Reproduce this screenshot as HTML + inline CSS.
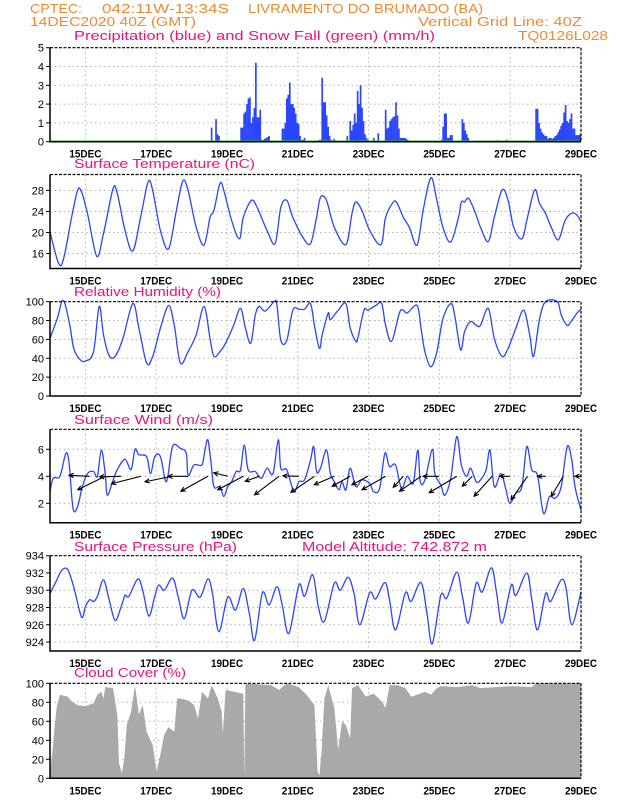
<!DOCTYPE html>
<html><head><meta charset="utf-8"><style>
html,body{margin:0;padding:0;background:#fff;}
svg{display:block;font-family:"Liberation Sans",sans-serif;}
</style></head><body>
<svg id="chart" width="618" height="800" viewBox="0 0 618 800" xmlns="http://www.w3.org/2000/svg">
<g fill="#f08a30" font-size="13">
<text x="30" y="13" textLength="52" lengthAdjust="spacingAndGlyphs">CPTEC:</text>
<text x="102" y="13" textLength="127" lengthAdjust="spacingAndGlyphs">042:11W-13:34S</text>
<text x="248" y="13" textLength="235" lengthAdjust="spacingAndGlyphs">LIVRAMENTO DO BRUMADO (BA)</text>
<text x="30" y="26" textLength="166" lengthAdjust="spacingAndGlyphs">14DEC2020 40Z (GMT)</text>
<text x="418" y="26" textLength="164" lengthAdjust="spacingAndGlyphs">Vertical Grid Line: 40Z</text>
<text x="518" y="40" textLength="90" lengthAdjust="spacingAndGlyphs">TQ0126L028</text>
</g>
<g id="panels"></g>
</svg>
<script>
// ---------- DATA ----------
const dateLabels = ["15DEC","17DEC","19DEC","21DEC","23DEC","25DEC","27DEC","29DEC"];
const dateDays = [1,3,5,7,9,11,13,15];

const precipHours = [109,112,113,114,129,130,131,132,133,134,135,136,137,138,139,140,141,142,143,144,145,146,147,148,157,158,159,160,161,162,163,164,165,166,167,168,169,170,171,172,182,183,184,185,186,187,188,189,190,192,201,203,204,205,206,207,208,209,210,211,212,213,214,215,216,219,222,227,228,229,230,231,232,233,234,235,236,237,238,239,240,241,242,265,266,267,268,269,270,271,272,279,280,281,282,283,288,303,309,329,330,331,332,333,334,335,336,337,338,339,340,341,342,343,344,345,346,347,348,349,350,351,352,353,354,355,356,357,358,359];
const precipValues = [0.75,1.2,0.4,0.3,0.75,0.75,1.5,1.6,2.0,2.3,2.35,1.0,1.3,1.8,4.2,1.3,1.3,1.7,0.1,0.1,0.15,0.2,0.25,0.3,0.7,0.7,1.0,2.3,2.5,3.15,2.0,2.0,1.8,1.5,1.0,0.95,0.3,0.1,0.1,0.2,0.1,0.1,3.4,2.1,2.1,1.4,0.8,0.3,0.1,0.15,0.3,1.1,0.6,0.9,1.5,1.0,2.7,2.0,3.0,1.8,1.1,0.4,0.2,0.1,0.05,0.2,0.45,1.7,0.7,0.75,1.1,1.2,1.3,1.35,2.1,1.4,0.7,0.2,0.2,0.2,0.2,0.15,0.1,0.1,0.8,1.5,1.5,0.2,0.2,0.35,0.35,1.2,1.0,0.6,0.4,0.2,0.05,0.08,0.1,1.75,1.75,1.0,0.7,0.5,0.4,0.3,0.3,0.15,0.2,0.2,0.15,0.2,0.3,0.35,0.5,0.65,0.85,1.0,1.55,1.95,1.1,1.0,1.2,1.5,0.7,0.7,0.35,0.35,0.35,0.4];

const tempDays = [0,0.245,0.39,0.61,0.78,0.89,1.06,1.32,1.51,1.78,1.90,2.12,2.34,2.56,2.77,2.90,3.12,3.35,3.57,3.75,3.90,4.13,4.35,4.52,4.63,4.80,4.91,5.13,5.35,5.46,5.69,5.85,6.13,6.36,6.52,6.69,6.86,7.14,7.36,7.53,7.64,7.81,8.03,8.36,8.53,8.64,8.81,9.03,9.35,9.48,9.70,9.81,9.98,10.15,10.37,10.54,10.76,10.93,11.10,11.32,11.54,11.62,11.71,11.82,11.99,12.16,12.38,12.55,12.77,12.94,13.10,13.33,13.49,13.69,13.83,14.00,14.16,14.36,14.55,14.74,14.89,15];
const tempValues = [20.1,14.1,15.2,22.9,28,27.7,23.6,15.5,19.8,28.3,27.4,20.4,16.5,22.9,29.6,28,20.4,16.9,24.2,29.8,28,21,17.6,22.9,24.2,29.3,28,22.3,18.8,22.9,26.1,24.8,20.4,17.9,24.8,26.1,22.9,19.1,17.9,22.9,26.7,26.1,21,17.7,23.6,25.8,24.2,20.4,17.7,22.9,25.8,25.5,22.9,21,17.6,24.2,30.4,26.1,21,18.2,22.9,25.8,25.8,26.5,24.2,21,18.3,22.9,28.1,26.1,21,18.8,22.9,28.1,25.5,23.6,21,18.6,22.3,23.7,23.3,22];

const rhDays = [0,0.22,0.33,0.42,0.56,0.67,0.84,1.00,1.23,1.39,1.51,1.67,1.84,2.06,2.34,2.51,2.73,2.90,3.12,3.35,3.51,3.68,3.90,4.13,4.35,4.52,4.63,4.80,4.96,5.19,5.38,5.52,5.67,5.80,5.91,6.08,6.33,6.41,6.52,6.69,6.86,7.03,7.19,7.36,7.47,7.61,7.69,7.86,7.92,8.14,8.36,8.48,8.64,8.70,8.87,8.98,9.20,9.37,9.48,9.65,9.87,9.98,10.09,10.37,10.48,10.59,10.76,10.93,11.10,11.32,11.43,11.60,11.71,11.88,12.04,12.16,12.38,12.55,12.77,12.94,13.16,13.38,13.55,13.66,13.83,14.00,14.33,14.44,14.61,14.72,14.89,15];
const rhValues = [61,84,100,98,75,50.5,39,37,47,95,65,43,42,61,98,72,35,42,72,96,75,35,47,65,95,61,42,47,56,75,93,72,56,86,95,90,100,97,59,59,91,92,92,98,75,50.5,65,88,81,91,98,72,58,62,91,91,96,98,75,58,88,91,88,96,72,47,31,47,82,98,86,49,68,79,75,75,93,61,42,50.5,72,91,65,42,82,100,100,86,75,79,88,92];

const windDays = [0,0.09,0.28,0.45,0.54,0.65,0.78,0.91,1.06,1.23,1.34,1.45,1.56,1.62,1.78,1.90,2.12,2.29,2.40,2.51,2.73,2.84,2.96,3.12,3.29,3.46,3.68,3.85,3.90,4.07,4.29,4.37,4.46,4.55,4.63,4.80,4.91,5.02,5.13,5.26,5.38,5.49,5.60,5.80,5.97,6.13,6.30,6.45,6.52,6.69,6.89,7.03,7.19,7.36,7.45,7.53,7.64,7.81,7.92,8.03,8.16,8.25,8.36,8.48,8.64,8.81,9.03,9.14,9.31,9.46,9.59,9.76,9.93,10.09,10.26,10.39,10.46,10.59,10.80,10.87,11.04,11.15,11.32,11.49,11.62,11.77,11.88,12.04,12.16,12.32,12.43,12.55,12.74,12.88,12.99,13.16,13.33,13.47,13.61,13.77,13.94,14.11,14.27,14.44,14.61,14.74,14.83,15];
const windValues = [2.86,3.85,4,5.7,4.96,1.63,1.75,3.2,4.2,4.35,4,5.95,4.2,2.6,3.7,4.5,5.26,4.5,6,5.6,5.46,4.2,5.46,5.46,3.6,6.2,6.07,5.7,4.07,4.84,4.84,5.83,6.7,4.96,3.23,3.23,2.5,3.23,3.6,4.35,4.47,6.32,4.47,4.35,3.85,4.6,4.2,6.7,4.6,4.47,2.86,3.6,3.73,5.2,6.2,4.35,4.6,5.95,4.2,3.6,2.99,3.6,2.99,4.6,3.23,3.73,3.48,2.86,3.1,5.7,4.72,4.84,3.1,4,3.48,5.95,3.6,3.73,6,4.2,3.36,2.6,3.85,6.94,4.84,4,4.6,3.6,3.73,4.47,5.95,3.23,4.2,2.99,2,2.74,3.23,6.2,4.47,4.07,1.26,2.5,2.37,3.23,6.2,5.2,3.23,1.5];
const arrowDays = [1.12,1.56,2.01,2.57,3.46,3.90,4.46,5.02,5.46,5.91,6.47,7.03,7.47,8.03,8.48,8.98,9.48,9.98,10.48,10.99,11.49,11.93,12.49,12.99,13.49,14.00,14.50,15.0];
const arrowU = [-4.1,-5.5,-4.3,-5.9,-5.5,-4.0,-5.4,-2.8,-5.1,-2.8,-4.9,-3.2,-4.7,-4.0,-3.6,-3.2,-4.7,-2.0,-4.3,-3.2,-5.5,-2.0,-3.6,-2.0,-3.3,-1.6,-2.4,-1.2];
const arrowV = [0.2,-2.7,-0.1,-1.5,-1.1,0,-3.0,0.7,-2.7,-1.0,-3.7,0.1,-3.2,-1.7,-2.0,-1.7,-2.7,-2.2,-3.0,0,-3.3,-2.0,-4.0,0,-4.7,0,-4.0,0];

const presDays = [0,0.17,0.33,0.50,0.67,0.89,1.00,1.12,1.23,1.34,1.51,1.67,1.84,2.01,2.12,2.23,2.48,2.62,2.79,2.96,3.07,3.23,3.46,3.62,3.79,4.01,4.24,4.46,4.59,4.77,5.02,5.24,5.46,5.63,5.78,6.00,6.19,6.41,6.56,6.75,7.03,7.19,7.42,7.58,7.75,8.03,8.20,8.42,8.59,8.75,9.03,9.20,9.46,9.59,9.76,10.04,10.20,10.48,10.65,10.80,11.04,11.21,11.49,11.65,11.82,12.04,12.21,12.47,12.62,12.77,13.03,13.16,13.47,13.61,13.77,14.00,14.14,14.44,14.58,14.74,15];
const presValues = [929.6,931,932.3,932.4,930.4,926.9,928.1,928.9,928.7,929.3,931.2,928.9,926.5,928.1,929.4,929.3,931.3,930,927,929.3,930.6,930,931.4,929.3,926.7,930,929.2,931.3,929.6,925.2,929.2,927.7,930.2,927.3,924.2,929.7,928.3,930.4,928.3,925,930.6,929.3,931.8,928.1,926.4,930.8,930,931.5,929.6,926,929.7,929,930.9,928.9,925.4,929.7,928.7,930.9,927.3,923.8,929.4,929.1,932.1,929.3,926.2,930.8,929.8,932.6,929.6,926.2,930.6,929.4,932,928.9,925.4,929.6,928.7,931.2,930.2,926,929.8];

const cloudDays = [0,0.08,0.13,0.19,0.28,0.50,0.61,0.78,1.00,1.23,1.34,1.45,1.51,1.56,1.78,1.90,1.95,2.03,2.10,2.17,2.29,2.40,2.51,2.62,2.73,2.90,3.01,3.12,3.23,3.35,3.51,3.59,3.68,3.90,4.07,4.18,4.29,4.46,4.57,4.74,4.85,4.88,4.96,5.19,5.46,5.49,5.52,6.25,6.47,6.69,7.03,7.25,7.47,7.56,7.61,7.67,7.75,7.86,8.03,8.14,8.25,8.36,8.48,8.53,8.70,8.92,9.14,9.37,9.48,9.59,9.81,10.04,10.20,10.37,10.59,10.76,10.93,11.04,11.49,11.93,12.16,12.60,13.05,13.61,13.72,15];
const cloudValues = [5,32,54,75,88,86,81,77,76,79,88,91,84,96,95,67,16,5,21,56,70,98,67,77,49,35,7,25,46,54,49,84,84,82,77,63,91,84,98,84,70,47,93,91,89,0,100,98,93,100,96,88,77,7,3,28,84,98,74,30,60,56,42,95,98,86,89,81,74,98,98,95,86,88,91,88,95,97,96,98,95,96,97,96,100,100];

// ---------- LAYOUT ----------
const X0 = 50, X1 = 581, DAYS = 15;
const xs = d => X0 + d * (X1 - X0) / DAYS;
const NS = "http://www.w3.org/2000/svg";
const root = document.getElementById('panels');
function mk(tag, attrs, parent) {
  const e = document.createElementNS(NS, tag);
  for (const k in attrs) e.setAttribute(k, attrs[k]);
  (parent || root).appendChild(e);
  return e;
}
const panels = [
  {name:'precipitation', title:'Precipitation (blue) and Snow Fall (green) (mm/h)', tx:74, ty:40, tl:361, top:47.7, bot:141.7, vmin:0, vmax:5, ticks:[0,1,2,3,4,5]},
  {name:'temperature', title:'Surface Temperature (nC)', tx:74, ty:168, tl:181, top:174.5, bot:268.5, vmin:13.16, vmax:31.03, ticks:[16,20,24,28]},
  {name:'humidity', title:'Relative Humidity (%)', tx:74, ty:296, tl:147, top:301.7, bot:396, vmin:0, vmax:100, ticks:[0,20,40,60,80,100]},
  {name:'wind', title:'Surface Wind (m/s)', tx:74, ty:424, tl:139, top:429.3, bot:522.7, vmin:0.56, vmax:7.48, ticks:[2,4,6]},
  {name:'pressure', title:'Surface Pressure (hPa)', tx:74, ty:551, tl:163, top:555.7, bot:651, vmin:922.96, vmax:934, ticks:[924,926,928,930,932,934]},
  {name:'cloud', title:'Cloud Cover (%)', tx:74, ty:677, tl:112, top:683.3, bot:778.3, vmin:0, vmax:100, ticks:[0,20,40,60,80,100]}
];
panels.forEach(p => { p.y = v => p.bot - (v - p.vmin) / (p.vmax - p.vmin) * (p.bot - p.top); });

function frame(p, g) {
  const t = mk('text', {x:p.tx, y:p.ty, fill:'#f0107f', 'font-size':13, textLength:p.tl, lengthAdjust:'spacingAndGlyphs'}, g);
  t.textContent = p.title;
  
  
  dateDays.forEach((d, i) => {
    const gl = mk('line', {x1:xs(d), x2:xs(d), y1:p.top, y2:p.bot, stroke:'#b0b0b0', 'stroke-dasharray':'1.5,3'}, g);
    
    
    const lb = mk('text', {x:xs(d), y:p.bot + 16, 'text-anchor':'middle', 'font-size':11, 'font-weight':'bold', textLength:32, lengthAdjust:'spacingAndGlyphs'}, g);
    lb.textContent = dateLabels[i];
    
    
  });
  p.ticks.forEach(v => {
    const yy = p.y(v);
    if (Math.abs(yy - p.top) > 1 && Math.abs(yy - p.bot) > 1) {
      const hl = mk('line', {x1:X0, x2:X1, y1:yy, y2:yy, stroke:'#b0b0b0', 'stroke-dasharray':'1.5,3'}, g);
      
      
    }
    mk('line', {x1:X0 - 4, x2:X0, y1:yy, y2:yy, stroke:'#000'}, g);
    const tl = mk('text', {x:X0 - 6, y:yy + 4, 'text-anchor':'end', 'font-size':11}, g);
    tl.textContent = v;
    
    
  });
}
function border(p, g) {
  const b1 = mk('path', {d:`M${X0},${p.top}H${X1}V${p.bot}`, fill:'none', stroke:'#000', 'stroke-width':1.2, 'stroke-dasharray':'3,1.5'}, g);
  
  
  const b2 = mk('path', {d:`M${X0},${p.top}V${p.bot}H${X1}`, fill:'none', stroke:'#000', 'stroke-width':1.5}, g);
  
  
}
function smoothPath(P) {
  let d = `M${P[0][0].toFixed(1)},${P[0][1].toFixed(1)}`;
  for (let i = 0; i < P.length - 1; i++) {
    const p0 = P[Math.max(0, i - 1)], p1 = P[i], p2 = P[i + 1], p3 = P[Math.min(P.length - 1, i + 2)];
    const c1x = p1[0] + (p2[0] - p0[0]) / 6, c1y = p1[1] + (p2[1] - p0[1]) / 6;
    const c2x = p2[0] - (p3[0] - p1[0]) / 6, c2y = p2[1] - (p3[1] - p1[1]) / 6;
    d += `C${c1x.toFixed(1)},${c1y.toFixed(1)} ${c2x.toFixed(1)},${c2y.toFixed(1)} ${p2[0].toFixed(1)},${p2[1].toFixed(1)}`;
  }
  return d;
}
function line(p, g, days, vals, name) {
  const P = days.map((d, i) => [xs(d), p.y(vals[i])]);
  const l = mk('path', {d:smoothPath(P), fill:'none', stroke:'#2a45ff', 'stroke-width':1.3, 'stroke-linejoin':'round'}, g);
  
  
}

panels.forEach(p => {
  const g = mk('g', {});
  
  
  frame(p, g);
  if (p.name === 'precipitation') {
    const bw = (X1 - X0) / DAYS / 24;
    precipHours.forEach((h, i) => {
      const r = mk('rect', {x:xs(h / 24), y:p.y(precipValues[i]), width:bw + 0.2, height:p.bot - p.y(precipValues[i]), fill:'#2a45ff'}, g);
      
      
    });
    const sn = mk('line', {x1:X0, x2:X1, y1:p.bot - 0.5, y2:p.bot - 0.5, stroke:'#22c022', 'stroke-width':1.5}, g);
    
    
  } else if (p.name === 'temperature') {
    line(p, g, tempDays, tempValues, 'temperature-line');
  } else if (p.name === 'humidity') {
    line(p, g, rhDays, rhValues, 'humidity-line');
  } else if (p.name === 'wind') {
    line(p, g, windDays, windValues, 'wind-speed-line');
    arrowDays.forEach((d, i) => {
      const x1 = xs(d), y1 = p.y(4);
      const x2 = x1 + arrowU[i] * 5, y2 = y1 - arrowV[i] * 5;
      const ang = Math.atan2(y2 - y1, x2 - x1);
      const a1 = ang + Math.PI - 0.45, a2 = ang + Math.PI + 0.45;
      const d2 = `M${x1},${y1}L${x2},${y2}M${x2 + 5 * Math.cos(a1)},${y2 + 5 * Math.sin(a1)}L${x2},${y2}L${x2 + 5 * Math.cos(a2)},${y2 + 5 * Math.sin(a2)}`;
      const a = mk('path', {d:d2, fill:'none', stroke:'#000', 'stroke-width':1.1}, g);
      
      
    });
  } else if (p.name === 'pressure') {
    line(p, g, presDays, presValues, 'pressure-line');
    const ma = mk('text', {x:302, y:p.ty, fill:'#f0107f', 'font-size':13, textLength:185, lengthAdjust:'spacingAndGlyphs'}, g);
    ma.textContent = 'Model Altitude: 742.872 m';
    
    
  } else if (p.name === 'cloud') {
    let pts = `${xs(0)},${p.bot} `;
    pts += cloudDays.map((d, i) => xs(d).toFixed(1) + ',' + p.y(cloudValues[i]).toFixed(1)).join(' ');
    pts += ` ${xs(DAYS)},${p.bot}`;
    const c = mk('polygon', {points:pts, fill:'#a9a9a9'}, g);
    
    
  }
  border(p, g);
});
</script>
</body></html>
